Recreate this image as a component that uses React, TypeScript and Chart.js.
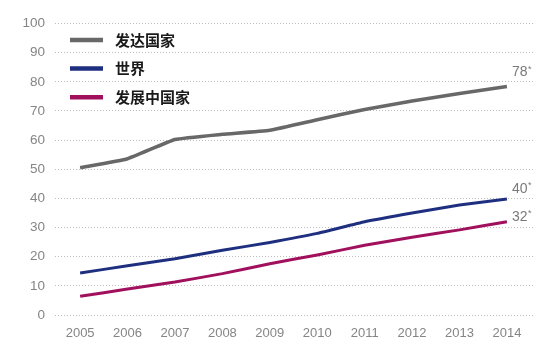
import React, { useEffect, useRef } from "react";
import { Chart, registerables } from "chart.js";

Chart.register(...registerables);

const years = [2005, 2006, 2007, 2008, 2009, 2010, 2011, 2012, 2013, 2014];
const seriesNames = ["发达国家", "世界", "发展中国家"];
const developed = [50.5, 53.6, 60.2, 62.0, 63.4, 67.0, 70.5, 73.4, 76.0, 78.4];
const world = [14.4, 16.9, 19.3, 22.2, 24.9, 28.0, 32.0, 35.0, 37.7, 39.8];
const developing = [6.4, 8.9, 11.3, 14.2, 17.6, 20.6, 23.9, 26.7, 29.2, 32.0];
const endLabels = ["78", "40", "32"];
const yTicks = [0, 10, 20, 30, 40, 50, 60, 70, 80, 90, 100];

const colors = ["#686868", "#1f2f7f", "#a0105c"];
const labelOffsets = [-14, -10, -5];

const overlayPlugin = {
  id: "overlay",
  afterDatasetsDraw(chart: any) {
    const ctx = chart.ctx;
    ctx.save();
    const lx = 70;
    const ly = 40;
    const gap = 28.6;
    chart.data.datasets.forEach((ds: any, i: number) => {
      const y = ly + i * gap;
      ctx.strokeStyle = ds.borderColor;
      ctx.lineWidth = 4.5;
      ctx.lineCap = "butt";
      ctx.beginPath();
      ctx.moveTo(lx, y);
      ctx.lineTo(lx + 33, y);
      ctx.stroke();
      ctx.fillStyle = "#1a1a1a";
      ctx.font = "bold 15px 'Noto Sans CJK SC', sans-serif";
      ctx.textAlign = "left";
      ctx.textBaseline = "middle";
      ctx.fillText(ds.label, lx + 45, y);
    });
    chart.data.datasets.forEach((ds: any, i: number) => {
      const meta = chart.getDatasetMeta(i);
      const pt = meta.data[meta.data.length - 1];
      if (!pt) return;
      const x = pt.x + 5;
      const y = pt.y + labelOffsets[i];
      ctx.fillStyle = "#7a7a7a";
      ctx.font = "14px 'Liberation Sans', Arial, sans-serif";
      ctx.textAlign = "left";
      ctx.textBaseline = "middle";
      const t = endLabels[i];
      ctx.fillText(t, x, y);
      const w = ctx.measureText(t).width;
      ctx.font = "9px 'Liberation Sans', Arial, sans-serif";
      ctx.fillText("*", x + w + 0.5, y - 3);
    });
    ctx.restore();
  },
};

export default function App() {
  const ref = useRef<HTMLCanvasElement | null>(null);
  useEffect(() => {
    document.body.style.margin = "0";
    const canvas = ref.current;
    if (!canvas) return;
    const data = [developed, world, developing];
    const chart = new Chart(canvas, {
      type: "line",
      data: {
        datasets: data.map((vals, i) => ({
          label: seriesNames[i],
          data: vals.map((v, j) => ({ x: years[j], y: v })),
          borderColor: colors[i],
          backgroundColor: colors[i],
          borderWidth: i === 0 ? 3.5 : 3,
          pointRadius: 0,
          tension: 0.12,
          fill: false,
        })),
      },
      options: {
        responsive: false,
        animation: false,
        devicePixelRatio: 1,
        layout: { padding: { top: 23.5, right: 20, left: 0, bottom: 0 } },
        plugins: {
          legend: { display: false },
          tooltip: { enabled: false },
        },
        scales: {
          x: {
            type: "linear",
            min: 2004.47,
            max: 2014.55,
            afterBuildTicks: (scale: any) => {
              scale.ticks = years.map((v) => ({ value: v }));
            },
            afterFit: (scale: any) => {
              scale.height = 37;
            },
            grid: { display: false, drawTicks: false },
            border: { display: false },
            ticks: {
              autoSkip: false,
              maxRotation: 0,
              padding: 11,
              color: "#858585",
              font: { family: "'Liberation Sans', Arial, sans-serif", size: 13 },
              callback: (v: any) => String(v),
            },
          },
          y: {
            min: 0,
            max: 100,
            afterBuildTicks: (scale: any) => {
              scale.ticks = yTicks.map((v) => ({ value: v }));
            },
            afterFit: (scale: any) => {
              scale.width = 55;
            },
            grid: { color: "#bdbdbd", lineWidth: 1, drawTicks: false },
            border: { display: false, dash: [1, 2] },
            ticks: {
              padding: 10,
              color: "#858585",
              font: { family: "'Liberation Sans', Arial, sans-serif", size: 13.5 },
            },
          },
        },
      },
      plugins: [overlayPlugin],
    } as any);
    return () => chart.destroy();
  }, []);
  return (
    <div style={{ width: 553, height: 352, background: "#fff" }}>
      <canvas ref={ref} width={553} height={352} style={{ display: "block" }} />
    </div>
  );
}
